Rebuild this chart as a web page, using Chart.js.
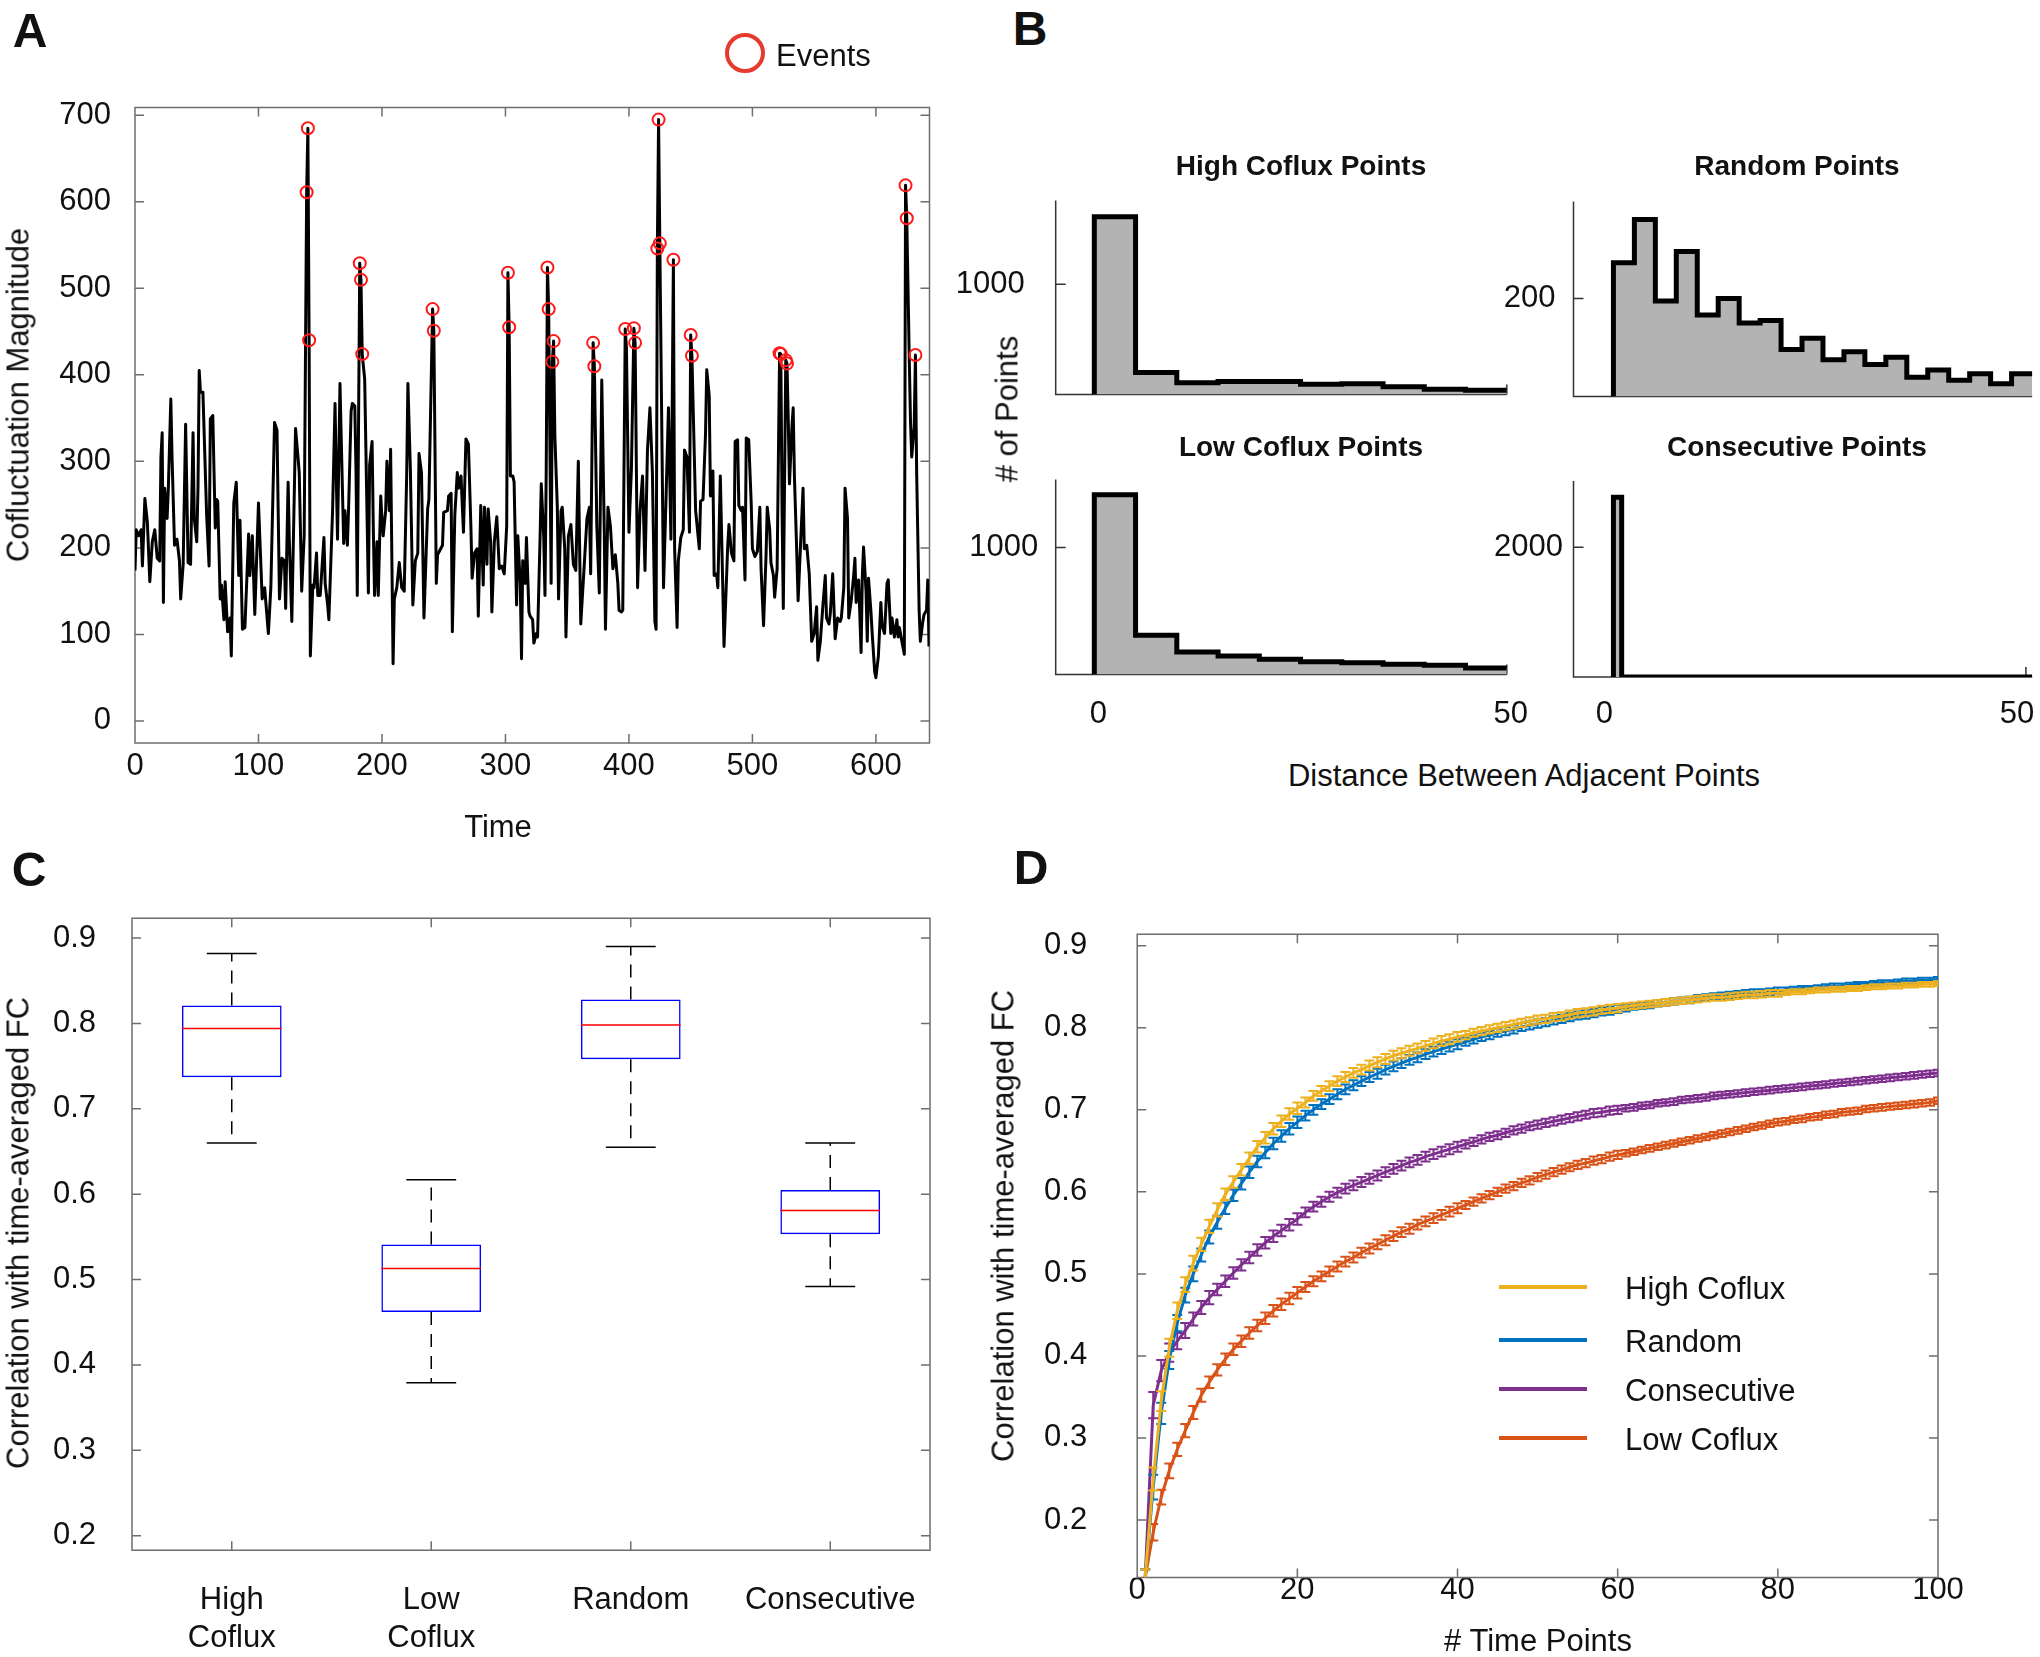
<!DOCTYPE html>
<html>
<head>
<meta charset="utf-8">
<title>Cofluctuation figure</title>
<script src="https://cdn.jsdelivr.net/npm/chart.js@4.4.1/dist/chart.umd.min.js"></script>
<style>
  html, body { margin:0; padding:0; background:#fff; }
  #page { position:relative; width:2040px; height:1657px; overflow:hidden; background:#fff;
          font-family:'Liberation Sans', Arial, Helvetica, sans-serif; color:#111; }
  #page canvas { position:absolute; }
  .t { position:absolute; white-space:nowrap; font-size:31px; line-height:1; transform:translate(-50%,-50%); }
  .r { transform:translate(-50%,-50%) rotate(-90deg); }
  .l { transform:translate(0,-50%); }
  .pl { font-weight:bold; font-size:48px; }
  .bt { font-weight:bold; font-size:28px; }
  .sw { position:absolute; height:4px; width:88px; }
</style>
</head>
<body>
<div id="page">
  <canvas id="cA"></canvas>
  <canvas id="cB1"></canvas>
  <canvas id="cB2"></canvas>
  <canvas id="cB3"></canvas>
  <canvas id="cB4"></canvas>
  <canvas id="cC"></canvas>
  <canvas id="cD"></canvas>

  <div class="t pl" style="left:30px;top:31px">A</div>
  <div class="t pl" style="left:1030px;top:29px">B</div>
  <div class="t pl" style="left:29px;top:870px">C</div>
  <div class="t pl" style="left:1031px;top:868px">D</div>

  <div style="position:absolute;left:725px;top:33px;width:40px;height:40px;box-sizing:border-box;border:4.5px solid #e63a2e;border-radius:50%"></div>
  <div class="t l" style="left:776px;top:55px">Events</div>
  <div class="t r" style="left:18px;top:395px">Cofluctuation Magnitude</div>
  <div class="t" style="left:498px;top:826px">Time</div>

  <div class="t bt" style="left:1301px;top:166px">High Coflux Points</div>
  <div class="t bt" style="left:1797px;top:166px">Random Points</div>
  <div class="t bt" style="left:1301px;top:447px">Low Coflux Points</div>
  <div class="t bt" style="left:1797px;top:447px">Consecutive Points</div>
  <div class="t r" style="left:1007px;top:409px"># of Points</div>
  <div class="t" style="left:1524px;top:775px">Distance Between Adjacent Points</div>

  <div class="t r" style="left:18px;top:1233px">Correlation with time-averaged FC</div>

  <div class="t r" style="left:1003px;top:1226px">Correlation with time-averaged FC</div>
  <div class="t" style="left:1538px;top:1640px"># Time Points</div>
  <div class="sw" style="left:1499px;top:1285px;background:#EDB120"></div>
  <div class="t l" style="left:1625px;top:1288px">High Coflux</div>
  <div class="sw" style="left:1499px;top:1338px;background:#0072BD"></div>
  <div class="t l" style="left:1625px;top:1341px">Random</div>
  <div class="sw" style="left:1499px;top:1387px;background:#7E2F8E"></div>
  <div class="t l" style="left:1625px;top:1390px">Consecutive</div>
  <div class="sw" style="left:1499px;top:1436px;background:#D95319"></div>
  <div class="t l" style="left:1625px;top:1439px">Low Coflux</div>
</div>

<script>
const FONT = "'Liberation Sans', Arial, Helvetica, sans-serif";
Chart.defaults.font.family = FONT;
Chart.defaults.color = '#111';

// ================= Panel A data =================
const aTime = [
  0,1,3,5,6,8,10,12,14,16,
  18,20,21,22,23,24,26,27,29,30,
  32,34,36,37,39,41,43,45,47,48,
  50,51,52,53,55,58,60,61,63,65,
  66,67,69,70,72,73,75,77,78,80,
  82,84,85,87,89,92,93,95,97,100,
  103,105,108,110,113,115,117,119,121,122,
  124,125,127,130,132,133,135,137,139,140,
  141,142,144,145,147,148,150,153,154,156,
  157,160,162,163,164,166,167,169,170,172,
  173,175,176,178,179,180,182,183,184,186,
  189,190,192,193,194,196,197,199,200,201,
  203,204,206,207,209,210,212,214,216,218,
  220,221,223,225,227,229,230,232,234,237,
  238,241,242,244,245,249,250,253,254,256,
  257,259,261,262,264,266,268,270,272,273,
  275,277,278,280,282,283,285,286,288,289,
  291,293,295,297,299,301,302,303,304,306,
  307,309,310,312,313,314,316,317,319,320,
  322,323,325,326,328,329,331,332,333,334,
  335,337,338,339,340,342,343,345,346,348,
  349,351,353,355,357,359,361,364,366,368,
  369,371,372,374,376,378,380,381,383,385,
  387,389,391,392,394,395,397,398,400,402,
  404,405,407,409,411,413,415,417,419,421,
  422,423,424,425,428,430,432,434,435,436,
  437,439,440,442,444,445,447,449,450,451,
  454,457,458,460,462,463,465,466,468,469,
  471,472,474,476,477,480,481,483,485,486,
  488,489,491,492,494,495,497,499,500,502,
  504,506,507,509,511,512,514,515,517,518,
  520,522,523,524,525,527,528,529,530,532,
  533,534,536,537,539,541,542,544,546,548,
  550,552,553,555,557,559,560,562,563,565,
  567,569,571,572,574,575,577,578,580,582,
  583,584,586,588,589,590,592,593,594,596,
  597,599,600,602,604,605,607,609,610,612,
  613,615,617,618,619,621,623,624,625,627,
  628,629,631,632,633,635,636,638,639,641,
  642,643
];
const aValue = [
  174,221,214,221,179,257,230,161,207,221,
  188,185,305,333,137,269,234,269,372,305,
  203,210,185,141,181,343,183,181,333,234,
  207,269,405,380,380,238,179,349,353,223,
  256,254,141,157,117,161,103,119,75,252,
  276,168,232,106,108,216,168,214,123,252,
  141,154,101,154,345,336,141,188,185,130,
  276,207,115,338,305,287,150,214,611,685,
  440,75,157,154,194,145,145,212,159,134,
  117,243,367,283,210,390,327,205,243,203,
  247,358,367,364,287,145,529,510,424,395,
  148,296,323,221,145,207,145,260,234,214,
  243,300,243,314,66,141,154,183,154,150,
  283,390,291,134,185,194,309,287,119,245,
  256,476,451,159,192,203,241,243,260,263,
  103,238,287,269,283,218,326,320,225,165,
  194,199,121,249,157,247,181,245,207,126,
  207,236,176,179,170,225,518,455,283,283,
  276,134,214,159,72,185,159,212,126,121,
  117,90,101,97,210,274,212,145,287,524,
  476,159,415,439,330,247,141,243,247,199,
  97,214,227,181,174,300,112,185,234,247,
  170,437,410,225,148,394,221,106,247,225,
  176,192,159,128,126,128,453,430,218,291,
  454,437,154,243,283,174,313,362,287,115,
  106,546,695,552,154,256,362,210,358,533,
  199,108,185,212,221,313,305,218,446,422,
  243,199,254,256,331,406,376,260,289,168,
  170,154,283,154,86,203,227,194,185,323,
  325,249,243,247,163,327,325,252,199,190,
  196,247,176,110,190,247,221,183,168,143,
  176,425,424,243,130,417,413,349,274,340,
  362,283,190,139,205,269,199,203,170,92,
  101,132,70,92,132,168,119,112,123,170,
  95,119,115,119,154,269,234,119,139,168,
  188,137,163,79,168,201,150,92,165,126,
  101,57,50,75,137,110,101,159,163,101,
  119,97,117,97,108,92,77,619,581,420,
  347,305,340,423,287,128,92,115,123,128,
  163,86
];
const eventTime  = [139,140,141,182,183,184,241,242,302,303,334,335,338,339,371,372,397,404,405,423,424,425,436,450,451,522,523,527,528,624,625,632];
const eventValue = [611,685,440,529,510,424,476,451,518,455,524,476,415,439,437,410,453,454,437,546,695,552,533,446,422,425,424,417,413,619,581,423];
const aXTicks = [0,100,200,300,400,500,600];
const aYTicks = [0,100,200,300,400,500,600,700];

// ================= Panel B data =================
const highEdges  = [0,5,10,15,20,25,30,35,40,45,50];
const highCounts = [1611,199,106,116,116,93,97,69,46,37];
const lowEdges   = [0,5,10,15,20,25,30,35,40,45,50];
const lowCounts  = [1414,309,177,145,120,100,92,80,72,52];
const randomEdges  = [0,2.54,5.08,7.62,10.16,12.7,15.24,17.78,20.32,22.86,25.4,27.94,30.48,33.02,35.56,38.1,40.64,43.18,45.72,48.26,50.8];
const randomCounts = [273,361,195,296,166,200,150,155,96,119,75,91,65,80,39,54,33,46,26,46];
const consecEdges  = [0,1,50.76];
const consecCounts = [2772,0];
const bXTicks = [0,50];

// ================= Panel C data =================
const boxCategories = [['High','Coflux'],['Low','Coflux'],'Random','Consecutive'];
const boxMin    = [0.660,0.379,0.655,0.492];
const boxQ1     = [0.737,0.462,0.758,0.553];
const boxMedian = [0.794,0.513,0.798,0.581];
const boxQ3     = [0.821,0.541,0.828,0.605];
const boxMax    = [0.882,0.617,0.890,0.660];
const cYTicks = [0.2,0.3,0.4,0.5,0.6,0.7,0.8,0.9];

// ================= Panel D data =================
const dTime = [1,2,3,4,5,6,7,8,9,10,11,12,13,14,15,16,17,18,19,20,21,22,23,24,25,26,27,28,29,30,31,32,33,34,35,36,37,38,39,40,41,42,43,44,45,46,47,48,49,50,51,52,53,54,55,56,57,58,59,60,61,62,63,64,65,66,67,68,69,70,71,72,73,74,75,76,77,78,79,80,81,82,83,84,85,86,87,88,89,90,91,92,93,94,95,96,97,98,99,100];
const dHigh = [
  0.13,0.25,0.345,0.41,0.455,0.487,0.513,0.536,0.558,0.578,
  0.597,0.612,0.627,0.641,0.655,0.666,0.677,0.686,0.695,0.702,
  0.709,0.717,0.723,0.729,0.735,0.740,0.745,0.749,0.754,0.758,
  0.762,0.766,0.769,0.772,0.775,0.778,0.781,0.784,0.786,0.789,
  0.791,0.794,0.796,0.798,0.800,0.802,0.804,0.806,0.808,0.810,
  0.811,0.813,0.814,0.816,0.818,0.819,0.820,0.822,0.823,0.824,
  0.826,0.827,0.828,0.829,0.830,0.831,0.832,0.833,0.834,0.835,
  0.836,0.837,0.837,0.838,0.839,0.840,0.840,0.841,0.842,0.842,
  0.843,0.844,0.844,0.845,0.846,0.846,0.847,0.847,0.848,0.848,
  0.849,0.850,0.850,0.851,0.851,0.852,0.852,0.853,0.853,0.854];
const dRandom = [
  0.13,0.24,0.33,0.395,0.44,0.474,0.500,0.523,0.545,0.563,
  0.580,0.596,0.610,0.624,0.637,0.648,0.659,0.668,0.677,0.685,
  0.693,0.700,0.707,0.713,0.719,0.725,0.730,0.735,0.740,0.744,
  0.749,0.753,0.757,0.761,0.764,0.768,0.771,0.774,0.777,0.780,
  0.783,0.786,0.789,0.791,0.794,0.796,0.798,0.801,0.803,0.805,
  0.807,0.809,0.811,0.813,0.815,0.816,0.818,0.820,0.821,0.823,
  0.824,0.826,0.827,0.828,0.830,0.831,0.832,0.833,0.834,0.836,
  0.837,0.838,0.839,0.840,0.841,0.842,0.843,0.843,0.844,0.845,
  0.846,0.847,0.848,0.848,0.849,0.850,0.851,0.851,0.852,0.853,
  0.853,0.854,0.855,0.855,0.856,0.857,0.857,0.858,0.858,0.859];
const dConsec = [
  0.13,0.34,0.382,0.404,0.418,0.431,0.445,0.459,0.471,0.481,
  0.491,0.501,0.511,0.520,0.529,0.538,0.546,0.553,0.560,0.567,
  0.575,0.582,0.588,0.594,0.599,0.604,0.608,0.612,0.616,0.620,
  0.624,0.628,0.632,0.636,0.639,0.643,0.646,0.649,0.652,0.655,
  0.658,0.661,0.664,0.667,0.669,0.672,0.675,0.677,0.680,0.682,
  0.684,0.686,0.688,0.690,0.692,0.694,0.696,0.697,0.699,0.700,
  0.702,0.703,0.705,0.706,0.708,0.709,0.710,0.712,0.713,0.714,
  0.715,0.717,0.718,0.719,0.720,0.721,0.722,0.723,0.724,0.725,
  0.726,0.727,0.728,0.729,0.730,0.731,0.732,0.733,0.734,0.735,
  0.736,0.737,0.738,0.739,0.740,0.741,0.742,0.743,0.744,0.745];
const dLow = [
  0.13,0.185,0.228,0.260,0.286,0.309,0.331,0.352,0.368,0.383,
  0.396,0.408,0.418,0.428,0.437,0.446,0.455,0.463,0.470,0.477,
  0.484,0.491,0.497,0.503,0.509,0.515,0.520,0.526,0.531,0.536,
  0.541,0.546,0.551,0.555,0.560,0.564,0.568,0.572,0.576,0.580,
  0.584,0.588,0.592,0.596,0.600,0.604,0.607,0.611,0.614,0.618,
  0.621,0.624,0.627,0.630,0.633,0.635,0.638,0.640,0.643,0.645,
  0.647,0.649,0.651,0.653,0.655,0.657,0.659,0.661,0.663,0.665,
  0.667,0.669,0.671,0.673,0.675,0.677,0.679,0.681,0.683,0.685,
  0.686,0.688,0.689,0.691,0.692,0.694,0.695,0.697,0.698,0.699,
  0.701,0.702,0.703,0.704,0.705,0.706,0.707,0.708,0.709,0.711];
const dHighErr = [
  0.010,0.014,0.012,0.011,0.010,0.009,0.009,0.008,0.008,0.008,
  0.007,0.007,0.007,0.007,0.007,0.007,0.007,0.007,0.007,0.007,
  0.006,0.006,0.006,0.006,0.006,0.006,0.006,0.006,0.006,0.006,
  0.006,0.006,0.006,0.006,0.006,0.006,0.006,0.006,0.006,0.006,
  0.005,0.005,0.005,0.005,0.005,0.005,0.005,0.005,0.005,0.005,
  0.005,0.005,0.005,0.005,0.005,0.005,0.005,0.005,0.005,0.005,
  0.004,0.004,0.004,0.004,0.004,0.004,0.004,0.004,0.004,0.004,
  0.004,0.004,0.004,0.004,0.004,0.004,0.004,0.004,0.004,0.004,
  0.003,0.003,0.003,0.003,0.003,0.003,0.003,0.003,0.003,0.003,
  0.003,0.003,0.003,0.003,0.003,0.003,0.003,0.003,0.003,0.003];
const dRandomErr = [
  0.010,0.015,0.013,0.011,0.010,0.009,0.009,0.008,0.008,0.008,
  0.007,0.007,0.007,0.007,0.007,0.007,0.007,0.007,0.007,0.007,
  0.006,0.006,0.006,0.006,0.006,0.006,0.006,0.006,0.006,0.006,
  0.006,0.006,0.006,0.006,0.006,0.006,0.006,0.006,0.006,0.006,
  0.005,0.005,0.005,0.005,0.005,0.005,0.005,0.005,0.005,0.005,
  0.005,0.005,0.005,0.005,0.005,0.005,0.005,0.005,0.005,0.005,
  0.004,0.004,0.004,0.004,0.004,0.004,0.004,0.004,0.004,0.004,
  0.004,0.004,0.004,0.004,0.004,0.004,0.004,0.004,0.004,0.004,
  0.003,0.003,0.003,0.003,0.003,0.003,0.003,0.003,0.003,0.003,
  0.003,0.003,0.003,0.003,0.003,0.003,0.003,0.003,0.003,0.003];
const dConsecErr = [
  0.010,0.016,0.013,0.011,0.010,0.009,0.008,0.008,0.008,0.007,
  0.007,0.007,0.007,0.007,0.007,0.007,0.007,0.007,0.007,0.007,
  0.006,0.006,0.006,0.006,0.006,0.006,0.006,0.006,0.006,0.006,
  0.006,0.006,0.006,0.006,0.006,0.006,0.006,0.006,0.006,0.006,
  0.005,0.005,0.005,0.005,0.005,0.005,0.005,0.005,0.005,0.005,
  0.005,0.005,0.005,0.005,0.005,0.005,0.005,0.005,0.005,0.005,
  0.004,0.004,0.004,0.004,0.004,0.004,0.004,0.004,0.004,0.004,
  0.004,0.004,0.004,0.004,0.004,0.004,0.004,0.004,0.004,0.004,
  0.004,0.004,0.004,0.004,0.004,0.004,0.004,0.004,0.004,0.004,
  0.004,0.004,0.004,0.004,0.004,0.004,0.004,0.004,0.004,0.004];
const dLowErr = [
  0.010,0.010,0.009,0.009,0.008,0.008,0.008,0.008,0.007,0.007,
  0.007,0.007,0.007,0.007,0.007,0.007,0.007,0.007,0.007,0.007,
  0.006,0.006,0.006,0.006,0.006,0.006,0.006,0.006,0.006,0.006,
  0.006,0.006,0.006,0.006,0.006,0.006,0.006,0.006,0.006,0.006,
  0.005,0.005,0.005,0.005,0.005,0.005,0.005,0.005,0.005,0.005,
  0.005,0.005,0.005,0.005,0.005,0.005,0.005,0.005,0.005,0.005,
  0.004,0.004,0.004,0.004,0.004,0.004,0.004,0.004,0.004,0.004,
  0.004,0.004,0.004,0.004,0.004,0.004,0.004,0.004,0.004,0.004,
  0.004,0.004,0.004,0.004,0.004,0.004,0.004,0.004,0.004,0.004,
  0.004,0.004,0.004,0.004,0.004,0.004,0.004,0.004,0.004,0.004];
const dSeriesNames = ['High Coflux','Random','Consecutive','Low Coflux'];
const dXTicks = [0,20,40,60,80,100];
const dYTicks = [0.2,0.3,0.4,0.5,0.6,0.7,0.8,0.9];

// ================= Plugins =================
const framePlugin = {
  id: 'frame',
  beforeDatasetsDraw(chart, args, o) {
    if (!o || !o.enabled) return;
    const ctx = chart.ctx, a = chart.chartArea;
    const xs = chart.scales.x, ys = chart.scales.y;
    ctx.save();
    ctx.strokeStyle = o.color; ctx.lineWidth = o.width;
    ctx.beginPath();
    if (o.box) {
      ctx.rect(a.left, a.top, a.right - a.left, a.bottom - a.top);
    } else {
      ctx.moveTo(a.left, a.top); ctx.lineTo(a.left, a.bottom); ctx.lineTo(a.right, a.bottom);
    }
    const L = o.tick;
    ys.ticks.forEach(t => {
      const y = ys.getPixelForValue(t.value);
      ctx.moveTo(a.left, y); ctx.lineTo(a.left + L, y);
      if (o.box) { ctx.moveTo(a.right, y); ctx.lineTo(a.right - L, y); }
    });
    xs.ticks.forEach(t => {
      const x = xs.getPixelForValue(t.value);
      ctx.moveTo(x, a.bottom); ctx.lineTo(x, a.bottom - L);
      if (o.box) { ctx.moveTo(x, a.top); ctx.lineTo(x, a.top + L); }
    });
    ctx.stroke();
    ctx.restore();
  }
};

const errPlugin = {
  id: 'errbars',
  afterDatasetDraw(chart, args) {
    const ds = chart.data.datasets[args.index];
    if (!ds.errors) return;
    const ctx = chart.ctx, a = chart.chartArea, ys = chart.scales.y;
    ctx.save();
    ctx.beginPath(); ctx.rect(a.left, a.top, a.right - a.left, a.bottom - a.top); ctx.clip();
    ctx.strokeStyle = ds.borderColor; ctx.lineWidth = ds.errWidth;
    ctx.beginPath();
    args.meta.data.forEach((el, i) => {
      const v = ds.data[i].y, e = ds.errors[i];
      const y1 = ys.getPixelForValue(v - e), y2 = ys.getPixelForValue(v + e);
      const x = el.x, w = ds.capHalf;
      ctx.moveTo(x, y1); ctx.lineTo(x, y2);
      ctx.moveTo(x - w, y1); ctx.lineTo(x + w, y1);
      ctx.moveTo(x - w, y2); ctx.lineTo(x + w, y2);
    });
    ctx.stroke();
    ctx.restore();
  }
};

// ================= Helpers =================
function axis(min, max, tickVals, o) {
  o = o || {};
  return {
    type: 'linear', min: min, max: max, offset: false,
    afterBuildTicks: s => { s.ticks = tickVals.map(v => ({ value: v })); },
    grid: { display: false, drawTicks: false, offset: false },
    border: { display: false },
    ticks: {
      display: o.show !== false, padding: o.pad || 0, labelOffset: o.labelOffset || 0,
      autoSkip: false, maxRotation: 0, minRotation: 0, color: '#111',
      font: { family: FONT, size: 31, lineHeight: 1.2 },
      callback: o.fmt || (v => String(v))
    }
  };
}

function mk(id, g, type, datasets, xOpt, yOpt, frameOpt) {
  const cv = document.getElementById(id);
  cv.width = g.w; cv.height = g.h;
  cv.style.left = g.x + 'px'; cv.style.top = g.y + 'px';
  cv.style.width = g.w + 'px'; cv.style.height = g.h + 'px';
  const a = { l: g.l - g.x, t: g.t - g.y, r: g.r - g.x, b: g.b - g.y };
  xOpt.afterFit = s => { s.height = g.h - a.b; };
  yOpt.afterFit = s => { s.width = a.l; };
  return new Chart(cv, {
    type: type,
    data: { datasets: datasets },
    plugins: [framePlugin, errPlugin],
    options: {
      responsive: false, maintainAspectRatio: false, animation: false, devicePixelRatio: 1,
      events: [],
      layout: { padding: { left: 0, top: a.t, right: g.w - a.r, bottom: 0 } },
      plugins: { legend: { display: false }, tooltip: { enabled: false }, title: { display: false }, frame: frameOpt },
      scales: { x: xOpt, y: yOpt }
    }
  });
}

// ================= Panel A =================
mk('cA', { x: 0, y: 0, w: 960, h: 850, l: 135, t: 107.5, r: 929.5, b: 743 }, 'line', [
  { label: 'Events', data: eventTime.map((t, i) => ({ x: t, y: eventValue[i] })), showLine: false,
    pointStyle: 'circle', pointRadius: 6, pointBorderWidth: 2, pointBorderColor: '#ff1a1a',
    pointBackgroundColor: 'rgba(0,0,0,0)', borderColor: '#ff1a1a', backgroundColor: 'rgba(0,0,0,0)' },
  { label: 'Cofluctuation Magnitude', data: aTime.map((t, i) => ({ x: t, y: aValue[i] })),
    borderColor: '#000', borderWidth: 3, pointRadius: 0, tension: 0, fill: false, borderJoinStyle: 'round' }
], axis(0, 643.4, aXTicks, { pad: 5 }), axis(-25.5, 709, aYTicks, { pad: 24 }),
{ enabled: true, box: true, color: '#6e6e6e', width: 1.5, tick: 9 });

// ================= Panel B =================
function histPoints(edges, counts) {
  const pts = [{ x: edges[0], y: 0 }];
  counts.forEach((c, i) => pts.push({ x: edges[i], y: c }));
  pts.push({ x: edges[edges.length - 1], y: counts[counts.length - 1] });
  return pts;
}
function histDs(label, edges, counts) {
  return { label: label, data: histPoints(edges, counts), stepped: 'before', fill: 'origin',
    backgroundColor: '#b3b3b3', borderColor: '#000', borderWidth: 5, pointRadius: 0,
    borderJoinStyle: 'miter', borderCapStyle: 'butt' };
}
const bFrame = { enabled: true, box: false, color: '#333', width: 1.5, tick: 10 };
mk('cB1', { x: 940, y: 140, w: 620, h: 320, l: 1055.7, t: 200.5, r: 1506.8, b: 394.4 }, 'line',
  [histDs('High Coflux Points', highEdges, highCounts)],
  axis(-4.68, 50, bXTicks, { show: false }), axis(0, 1759, [1000], { pad: 31 }), bFrame);
mk('cB2', { x: 1460, y: 140, w: 640, h: 320, l: 1573.5, t: 201.5, r: 2032.2, b: 396.4 }, 'line',
  [histDs('Random Points', randomEdges, randomCounts)],
  axis(-4.84, 50.76, bXTicks, { show: false }), axis(0, 398, [200], { pad: 18 }), bFrame);
mk('cB3', { x: 940, y: 420, w: 620, h: 330, l: 1055.7, t: 479.6, r: 1506.8, b: 674.5 }, 'line',
  [histDs('Low Coflux Points', lowEdges, lowCounts)],
  axis(-4.68, 50, bXTicks, { pad: 21, labelOffset: 4 }), axis(0, 1534, [1000], { pad: 17.5 }), bFrame);
mk('cB4', { x: 1460, y: 420, w: 640, h: 330, l: 1573.5, t: 481, r: 2032.2, b: 677 }, 'line',
  [histDs('Consecutive Points', consecEdges, consecCounts)],
  axis(-4.84, 50.76, bXTicks, { pad: 18.7, labelOffset: -9 }), axis(0, 3024, [2000], { pad: 10.5 }), bFrame);

// ================= Panel C =================
const BOX_HALF = 0.25, CAP_HALF = 0.125;
const cPos = boxCategories.map((c, i) => i + 1);
const medianPts = [], capPts = [], whiskerPts = [];
cPos.forEach((cx, i) => {
  medianPts.push({ x: cx - BOX_HALF, y: boxMedian[i] }, { x: cx + BOX_HALF, y: boxMedian[i] }, { x: cx + BOX_HALF, y: null });
  capPts.push({ x: cx - CAP_HALF, y: boxMax[i] }, { x: cx + CAP_HALF, y: boxMax[i] }, { x: cx + CAP_HALF, y: null },
              { x: cx - CAP_HALF, y: boxMin[i] }, { x: cx + CAP_HALF, y: boxMin[i] }, { x: cx + CAP_HALF, y: null });
  whiskerPts.push({ x: cx, y: boxQ3[i] }, { x: cx, y: boxMax[i] }, { x: cx, y: null },
                  { x: cx, y: boxQ1[i] }, { x: cx, y: boxMin[i] }, { x: cx, y: null });
});
mk('cC', { x: 0, y: 860, w: 960, h: 797, l: 132, t: 918.2, r: 930, b: 1550.3 }, 'bar', [
  { type: 'line', label: 'Median', data: medianPts, borderColor: '#ff0000', borderWidth: 1.5, pointRadius: 0, spanGaps: false, fill: false },
  { type: 'line', label: 'Whisker caps', data: capPts, borderColor: '#000', borderWidth: 1.5, pointRadius: 0, spanGaps: false, fill: false },
  { type: 'line', label: 'Whiskers', data: whiskerPts, borderColor: '#000', borderWidth: 1.5, borderDash: [13, 9], pointRadius: 0, spanGaps: false, fill: false },
  { type: 'bar', label: 'Box', data: cPos.map((cx, i) => ({ x: cx, y: [boxQ1[i], boxQ3[i]] })),
    backgroundColor: 'rgba(0,0,0,0)', borderColor: '#0000ff', borderWidth: 1.5, borderSkipped: false,
    barPercentage: 0.5, categoryPercentage: 1.0 }
], axis(0.5, 4.5, cPos, { pad: 32, fmt: (v, i) => boxCategories[i] }),
   axis(0.1829, 0.9232, cYTicks, { pad: 36 }),
{ enabled: true, box: true, color: '#6e6e6e', width: 1.5, tick: 9 });

// ================= Panel D =================
const dColors = ['#EDB120', '#0072BD', '#7E2F8E', '#D95319'];
const dValues = [dHigh, dRandom, dConsec, dLow];
const dErrors = [dHighErr, dRandomErr, dConsecErr, dLowErr];
mk('cD', { x: 960, y: 860, w: 1080, h: 797, l: 1137.2, t: 934.3, r: 1938, b: 1577.4 }, 'line',
  dSeriesNames.map((name, k) => ({
    label: name, data: dTime.map((t, i) => ({ x: t, y: dValues[k][i] })),
    borderColor: dColors[k], borderWidth: 3, pointRadius: 0, tension: 0, fill: false,
    errors: dErrors[k], errWidth: 2, capHalf: 5
  })),
  axis(0, 100, dXTicks, { pad: -5.6 }), axis(0.130, 0.914, dYTicks, { pad: 50 }),
  { enabled: true, box: true, color: '#6e6e6e', width: 1.5, tick: 9 });
</script>
</body>
</html>
